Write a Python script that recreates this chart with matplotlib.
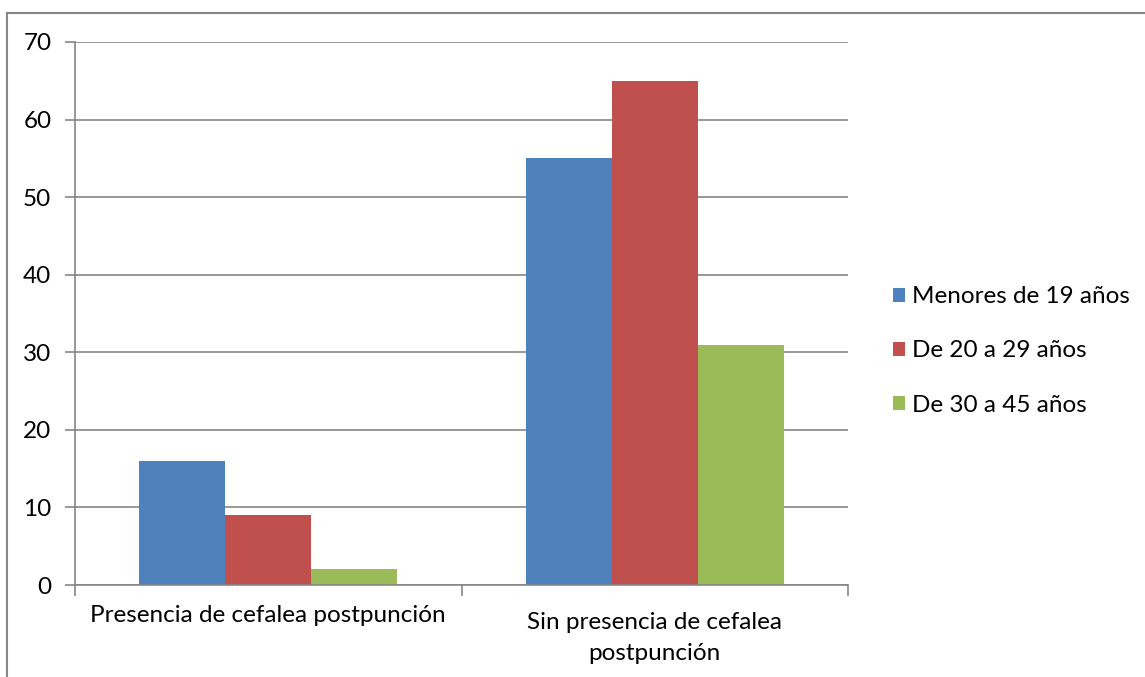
import matplotlib.pyplot as plt
import numpy as np
from matplotlib.lines import Line2D

categories = ["Presencia de cefalea postpunción", "Sin presencia de cefalea\npostpunción"]
series_names = ["Menores de 19 años", "De 20 a 29 años", "De 30 a 45 años"]
menores_19 = [16, 55]
de_20_29 = [9, 65]
de_30_45 = [2, 31]
y_ticks = [0, 10, 20, 30, 40, 50, 60, 70]

colors = ["#4F81BD", "#C0504D", "#9BBB59"]
grid_color = "#868686"
fs = 17.5

plt.rcParams["font.family"] = ["Lato", "DejaVu Sans"]

fig = plt.figure(figsize=(11.45, 6.77), dpi=100)
ax = fig.add_axes([75 / 1145, 92 / 677, 773 / 1145, 543 / 677])

# Excel-style clustered columns: gap width 150%
x = np.arange(len(categories))
bar_w = 1 / (3 + 1.5)
values = [menores_19, de_20_29, de_30_45]
for i, (vals, name) in enumerate(zip(values, series_names)):
    ax.bar(x + (i - 1) * bar_w, vals, width=bar_w, color=colors[i],
           label=name, zorder=3)

ax.set_xlim(-0.5, len(categories) - 0.5)
ax.set_ylim(0, 70)
ax.set_yticks(y_ticks)
ax.set_yticklabels([str(t) for t in y_ticks], fontsize=fs)
ax.yaxis.grid(True, color=grid_color, linewidth=1.2, zorder=0)

# gridlines reach out over the tick area on the left
ax.tick_params(axis="y", length=7, width=1.2, color=grid_color, pad=10)
ax.set_xticks([-0.5, 0.5, 1.5])
ax.set_xticklabels(["", "", ""])
ax.tick_params(axis="x", length=8, width=1.2, color=grid_color, direction="out")

# category labels, vertically centred under the axis like Excel does
label_offsets = [31, 53]
for xi, cat, off in zip(x, categories, label_offsets):
    ax.text(xi, -off / 543, cat, transform=ax.get_xaxis_transform(),
            ha="center", va="center", fontsize=fs, linespacing=1.55)

for side in ["top", "right"]:
    ax.spines[side].set_visible(False)
for side in ["left", "bottom"]:
    ax.spines[side].set_color(grid_color)
    ax.spines[side].set_linewidth(1.2)
ax.spines["bottom"].set_zorder(4)

leg = fig.legend(loc="center left", bbox_to_anchor=(893 / 1145, 1 - 351 / 677),
                 frameon=False, fontsize=fs, handlelength=0.5, handleheight=0.5,
                 handletextpad=0.3, labelspacing=1.36, borderaxespad=0, borderpad=0)

# outer chart border
fig.add_artist(Line2D([7 / 1145, 7 / 1145], [0, 1 - 13 / 677], transform=fig.transFigure,
                      color=grid_color, linewidth=1.5))
fig.add_artist(Line2D([7 / 1145, 1], [1 - 13 / 677, 1 - 13 / 677], transform=fig.transFigure,
                      color=grid_color, linewidth=1.5))

fig.savefig("out.png", dpi=100)
